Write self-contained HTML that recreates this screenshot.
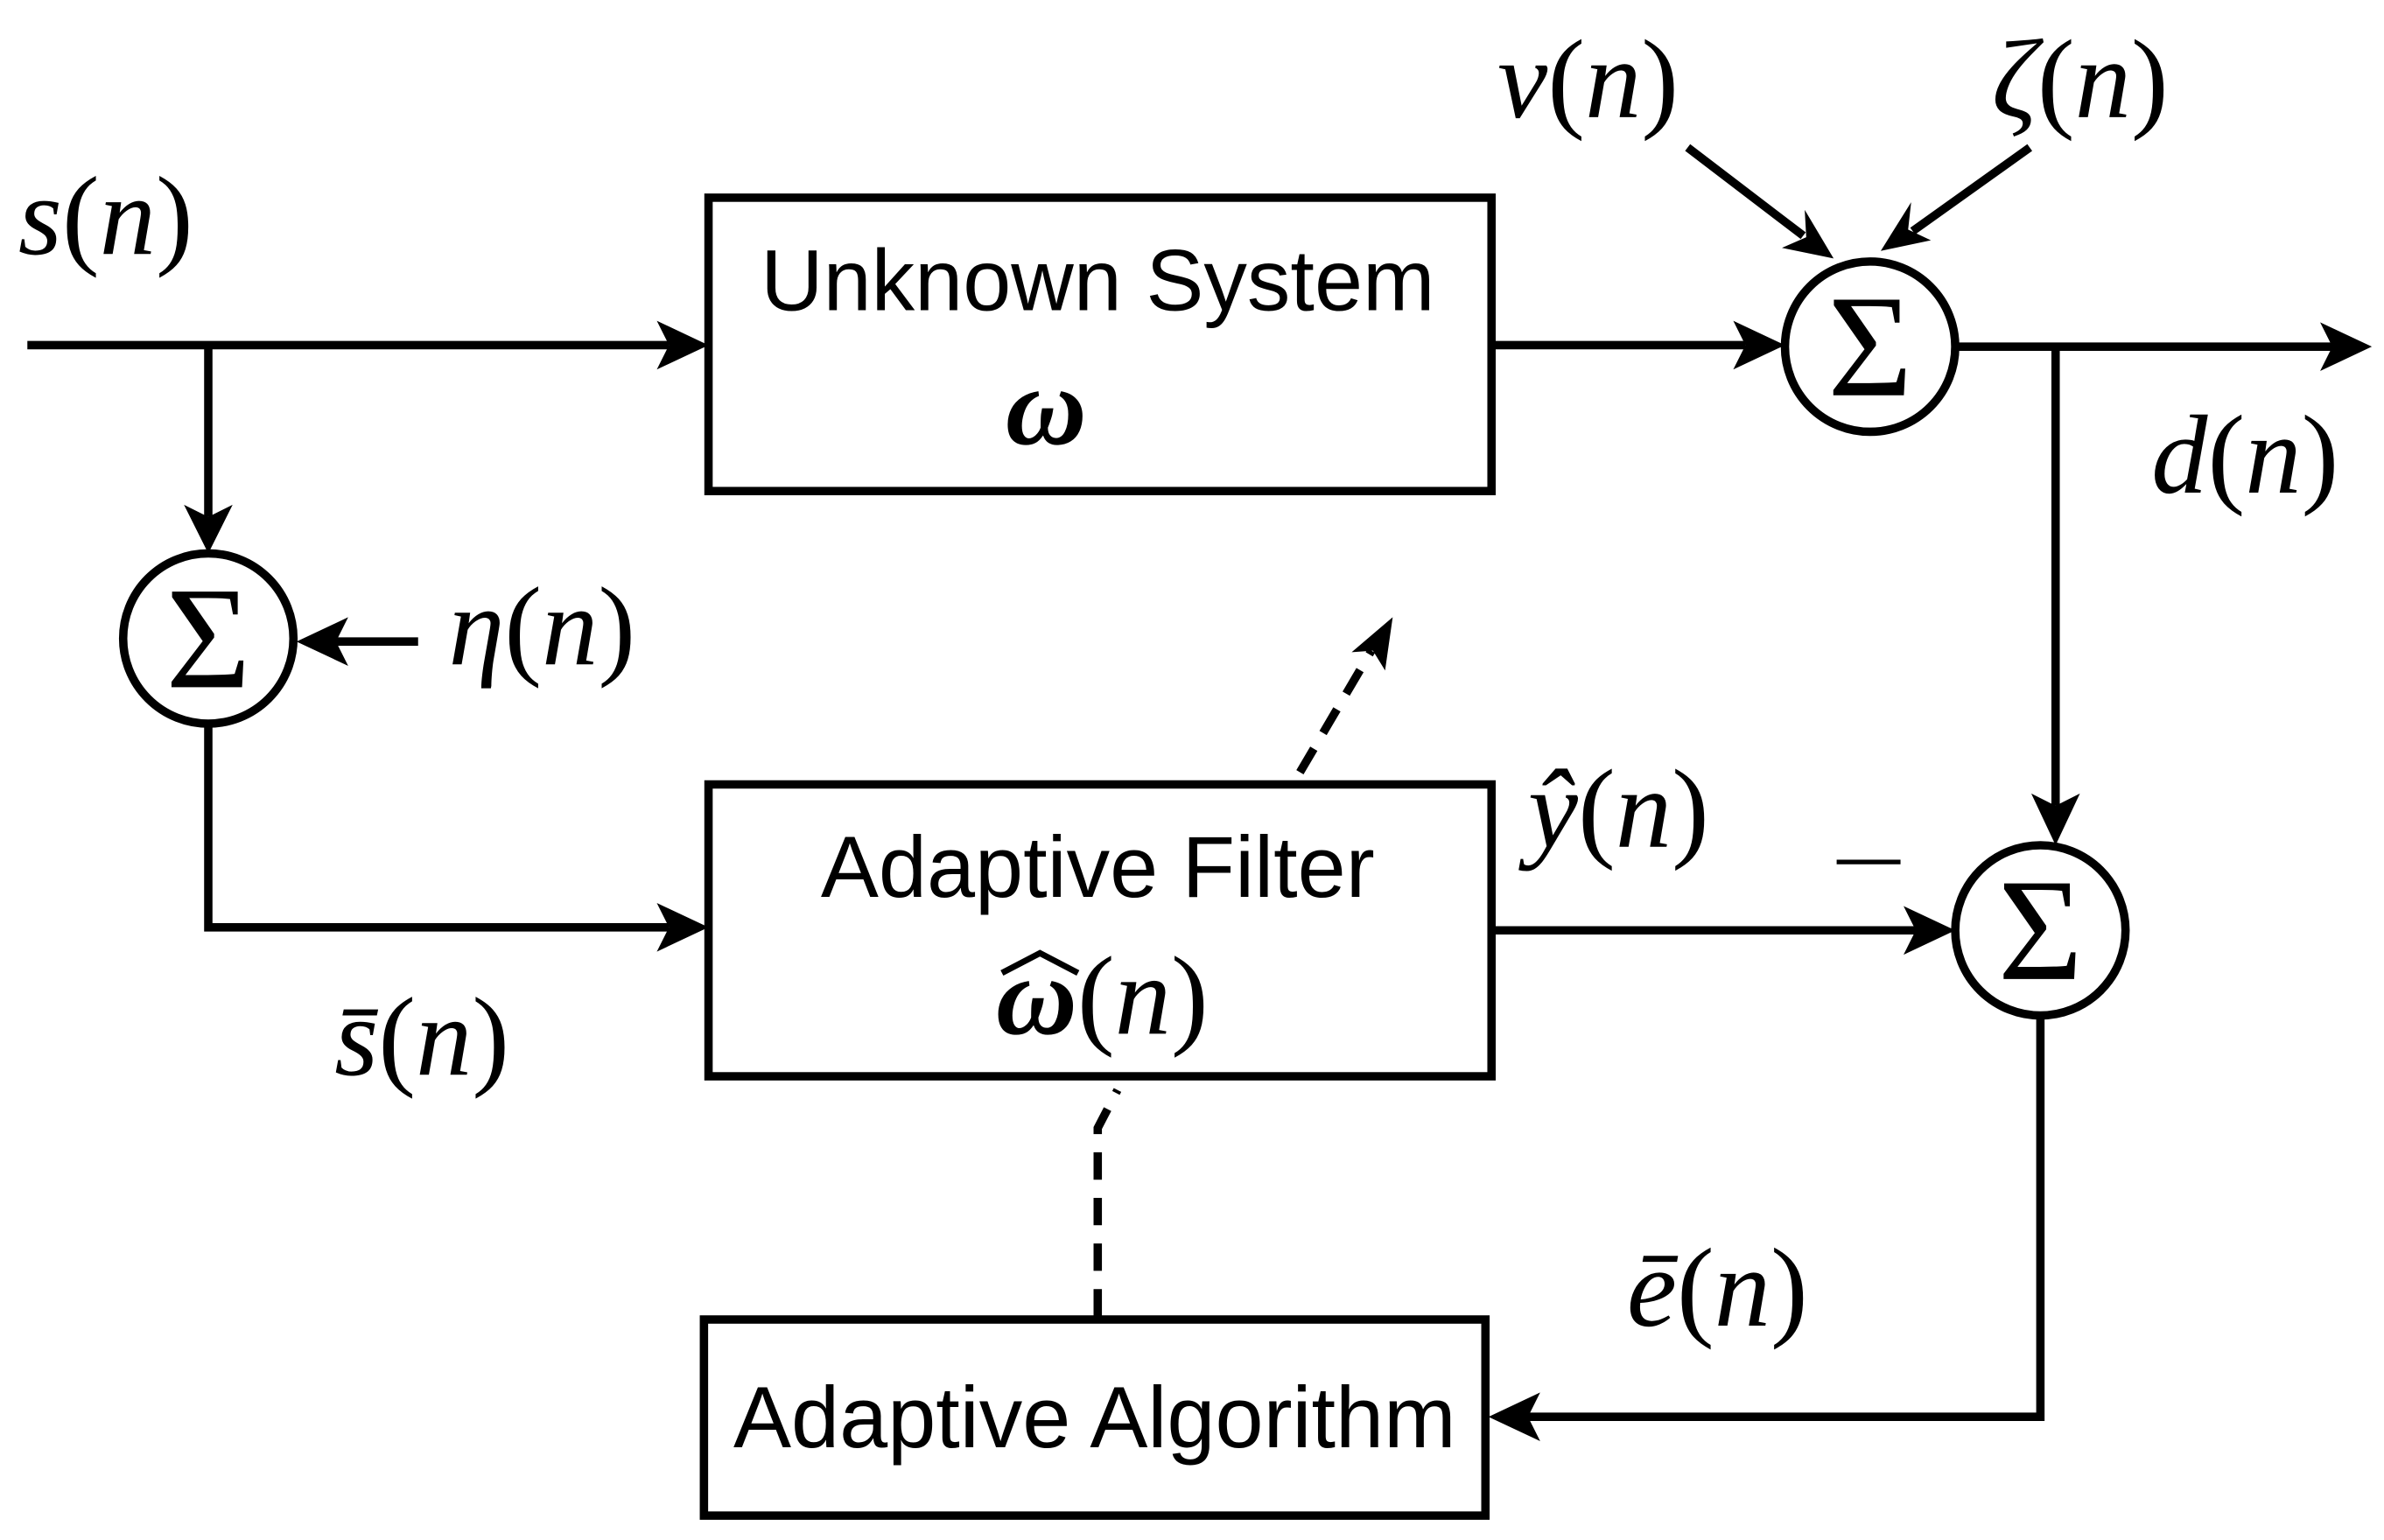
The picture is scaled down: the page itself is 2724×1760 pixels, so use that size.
<!DOCTYPE html>
<html><head><meta charset="utf-8"><style>
html,body{margin:0;padding:0;background:#fff;}
svg{display:block;}
.m{font-family:"Liberation Serif","DejaVu Serif",serif;font-style:italic;font-size:74px;}
.p{font-style:normal;}
.t{font-family:"Liberation Sans",sans-serif;font-size:57px;}
</style></head><body>
<svg width="2724" height="1760" viewBox="0 0 1568 1013" xmlns="http://www.w3.org/2000/svg">
<g fill="none" stroke="#000" stroke-width="5.5">
<rect x="466" y="130" width="515" height="193"/>
<rect x="466" y="516" width="515" height="192"/>
<rect x="463" y="868" width="514" height="129"/>
<circle cx="1230" cy="228" r="56"/>
<circle cx="137" cy="420" r="56"/>
<circle cx="1342" cy="612" r="56"/>
<path d="M18 227 H440"/>
<path d="M137 227 V340"/>
<path d="M981 227 H1148"/>
<path d="M1286 228 H1535"/>
<path d="M1352 228 V530"/>
<path d="M1110 97 L1186 155"/>
<path d="M1335 97 L1258 152"/>
<path d="M275 422 H218"/>
<path d="M137 476 V610 H440"/>
<path d="M981 612 H1262"/>
<path d="M1342 668 V932 H1005"/>
<path d="M722 866 V742 L735 717" stroke-dasharray="18,12"/>
<path d="M855 508 L902 428" stroke-dasharray="18,12"/>
<path d="M659 640 L684 627 L709 640" stroke-width="4"/>
</g>
<g fill="#000">
<polygon points="466,227 432,211 440,227 432,243"/>
<polygon points="137,364 121,332 137,340 153,332"/>
<polygon points="1174,227 1140,211 1148,227 1140,243"/>
<polygon points="1560,228 1526,212 1534,228 1526,244"/>
<polygon points="1352,556 1336,522 1352,530 1368,522"/>
<polygon points="1206,170 1172,163 1188,156 1187,138"/>
<polygon points="1237,165 1270,158 1255,151 1257,133"/>
<polygon points="195,422 229,406 221,422 229,438"/>
<polygon points="466,610 432,594 440,610 432,626"/>
<polygon points="1286,612 1252,596 1260,612 1252,628"/>
<polygon points="979,932 1013,916 1005,932 1013,948"/>
<polygon points="916,406 889,429 903,428 911,441"/>
</g>
<g text-anchor="middle" font-family="Liberation Serif,serif" font-size="96">
<text x="1230" y="260">Σ</text>
<text x="137" y="452">Σ</text>
<text x="1342" y="644">Σ</text>
</g>
<text class="t" x="722" y="204" text-anchor="middle">Unknown System</text>
<text x="688" y="292" text-anchor="middle" font-family="Liberation Serif,serif" font-style="italic" font-weight="bold" font-size="74">ω</text>
<text class="t" x="722" y="590" text-anchor="middle">Adaptive Filter</text>
<text x="655" y="680" class="m" font-weight="bold">ω<tspan font-weight="normal" class="p">(</tspan><tspan font-weight="normal">n</tspan><tspan font-weight="normal" class="p">)</tspan></text>
<text class="t" x="720" y="952" text-anchor="middle">Adaptive Algorithm</text>
<text class="m" x="12" y="167">s<tspan class="p">(</tspan>n<tspan class="p">)</tspan></text>
<text class="m" x="985" y="77">ν<tspan class="p">(</tspan>n<tspan class="p">)</tspan></text>
<text class="m" x="1310" y="77">ζ<tspan class="p">(</tspan>n<tspan class="p">)</tspan></text>
<text class="m" x="1415" y="324">d<tspan class="p">(</tspan>n<tspan class="p">)</tspan></text>
<text class="m" x="295" y="437">η<tspan class="p">(</tspan>n<tspan class="p">)</tspan></text>
<text class="m" x="220" y="707">s̄<tspan class="p">(</tspan>n<tspan class="p">)</tspan></text>
<text class="m" x="1005" y="557">ŷ<tspan class="p">(</tspan>n<tspan class="p">)</tspan></text>
<text class="m" x="1070" y="872">ē<tspan class="p">(</tspan>n<tspan class="p">)</tspan></text>
<path d="M1208 567 H1250" stroke="#000" stroke-width="3"/>
</svg>
</body></html>
